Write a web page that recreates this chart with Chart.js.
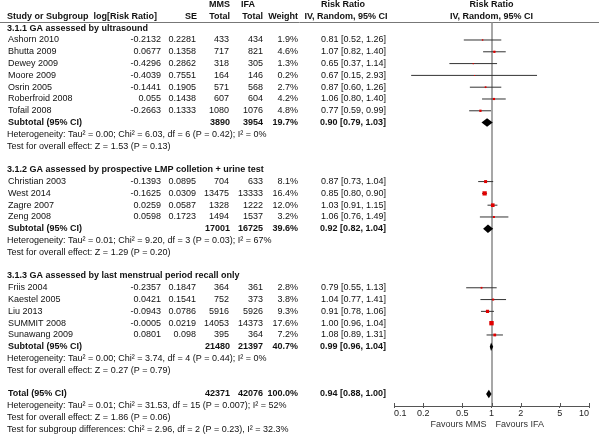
<!DOCTYPE html>
<html>
<head>
<meta charset="utf-8">
<script src="https://cdn.jsdelivr.net/npm/chart.js@4.4.0/dist/chart.umd.min.js"></script>
<style>
  body { margin: 0; background: #fff; }
  #wrap { width: 599px; height: 438px; }
</style>
</head>
<body>
<div id="wrap"><canvas id="myChart" width="599" height="438"></canvas></div>
<script>
// study data
var studies = ['Ashorn 2010', 'Bhutta 2009', 'Dewey 2009', 'Moore 2009', 'Osrin 2005', 'Roberfroid 2008', 'Tofail 2008',
    'Christian 2003', 'West 2014', 'Zagre 2007', 'Zeng 2008',
    'Friis 2004', 'Kaestel 2005', 'Liu 2013', 'SUMMIT 2008', 'Sunawang 2009'];
var logRR = ['-0.2132', '0.0677', '-0.4296', '-0.4039', '-0.1441', '0.055', '-0.2663',
    '-0.1393', '-0.1625', '0.0259', '0.0598',
    '-0.2357', '0.0421', '-0.0943', '-0.0005', '0.0801'];
var seVals = ['0.2281', '0.1358', '0.2862', '0.7551', '0.1905', '0.1438', '0.1333',
    '0.0895', '0.0309', '0.0587', '0.1723',
    '0.1847', '0.1541', '0.0786', '0.0219', '0.098'];
var mmsTotal = [433, 717, 318, 164, 571, 607, 1080, 704, 13475, 1328, 1494, 364, 752, 5916, 14053, 395];
var ifaTotal = [434, 821, 305, 146, 568, 604, 1076, 633, 13333, 1222, 1537, 361, 373, 5926, 14373, 364];
var weights = [1.9, 4.6, 1.3, 0.2, 2.7, 4.2, 4.8, 8.1, 16.4, 12.0, 3.2, 2.8, 3.8, 9.3, 17.6, 7.2];
var rr = [0.81, 1.07, 0.65, 0.67, 0.87, 1.06, 0.77, 0.87, 0.85, 1.03, 1.06, 0.79, 1.04, 0.91, 1.00, 1.08];
var ciLow = [0.52, 0.82, 0.37, 0.15, 0.60, 0.80, 0.59, 0.73, 0.80, 0.91, 0.76, 0.55, 0.77, 0.78, 0.96, 0.89];
var ciHigh = [1.26, 1.40, 1.14, 2.93, 1.26, 1.40, 0.99, 1.04, 0.90, 1.15, 1.49, 1.13, 1.41, 1.06, 1.04, 1.31];
var groupOf = [0, 0, 0, 0, 0, 0, 0, 1, 1, 1, 1, 2, 2, 2, 2, 2];

// subgroups + total
var groupTitles = ['3.1.1 GA assessed by ultrasound',
    '3.1.2 GA assessed by prospective LMP colletion + urine test',
    '3.1.3 GA assessed by last menstrual period recall only'];
var subMms = [3890, 17001, 21480];
var subIfa = [3954, 16725, 21397];
var subWeight = [19.7, 39.6, 40.7];
var subRR = [0.90, 0.92, 0.99];
var subLow = [0.79, 0.82, 0.96];
var subHigh = [1.03, 1.04, 1.04];
var subHet = ['Heterogeneity: Tau\u00b2 = 0.00; Chi\u00b2 = 6.03, df = 6 (P = 0.42); I\u00b2 = 0%',
    'Heterogeneity: Tau\u00b2 = 0.01; Chi\u00b2 = 9.20, df = 3 (P = 0.03); I\u00b2 = 67%',
    'Heterogeneity: Tau\u00b2 = 0.00; Chi\u00b2 = 3.74, df = 4 (P = 0.44); I\u00b2 = 0%'];
var subTest = ['Test for overall effect: Z = 1.53 (P = 0.13)',
    'Test for overall effect: Z = 1.29 (P = 0.20)',
    'Test for overall effect: Z = 0.27 (P = 0.79)'];
var totalMms = 42371, totalIfa = 42076, totalWeight = 100.0;
var totalRR = 0.94, totalLow = 0.88, totalHigh = 1.00;
var totalNotes = ['Heterogeneity: Tau\u00b2 = 0.01; Chi\u00b2 = 31.53, df = 15 (P = 0.007); I\u00b2 = 52%',
    'Test for overall effect: Z = 1.86 (P = 0.06)',
    'Test for subgroup differences: Chi\u00b2 = 2.96, df = 2 (P = 0.23), I\u00b2 = 32.3%'];
var xTicks = [0.1, 0.2, 0.5, 1, 2, 5, 10];

// row numbers (one row = one line of the table)
var groupStart = [-1, 11, 20];
var studyRow = [];
var subRow = [];
var counter = [0, 0, 0];
for (var i = 0; i < studies.length; i++) {
    var g = groupOf[i];
    counter[g]++;
    studyRow.push(groupStart[g] + counter[g]);
}
for (var g = 0; g < 3; g++) subRow.push(groupStart[g] + counter[g] + 1);
var totalRow = 30;

function fmt2(v) { return v.toFixed(2); }
function ciText(a, b, c) { return fmt2(a) + ' [' + fmt2(b) + ', ' + fmt2(c) + ']'; }

// datasets: one line per CI, plus the squares
var datasets = [];
for (var i = 0; i < studies.length; i++) {
    datasets.push({
        type: 'line',
        data: [{x: ciLow[i], y: studyRow[i]}, {x: ciHigh[i], y: studyRow[i]}],
        borderColor: '#333',
        borderWidth: 1,
        pointRadius: 0,
        order: 2
    });
}
datasets.push({
    type: 'scatter',
    data: rr.map(function(v, i) { return {x: v, y: studyRow[i]}; }),
    pointStyle: 'rect',
    pointRadius: weights.map(function(w) { return Math.max(1, Math.sqrt(w) * 1.05) / Math.SQRT2; }),
    backgroundColor: '#e00000',
    borderColor: '#e00000',
    borderWidth: 0,
    order: 1
});

var FONT = 'Arial, "Liberation Sans", sans-serif';

var tablePlugin = {
    id: 'table',
    beforeDatasetsDraw: function(chart) {
        var ctx = chart.ctx;
        var xs = chart.scales.x, ys = chart.scales.y;
        var area = chart.chartArea;
        ctx.save();
        // header rule
        ctx.strokeStyle = '#777';
        ctx.lineWidth = 1;
        ctx.beginPath();
        ctx.moveTo(0, area.top + 0.5);
        ctx.lineTo(599, area.top + 0.5);
        ctx.stroke();
        // line of no effect
        var x1 = Math.round(xs.getPixelForValue(1));
        ctx.strokeStyle = '#8a8a8a';
        ctx.lineWidth = 1.5;
        ctx.beginPath();
        ctx.moveTo(x1, area.top);
        ctx.lineTo(x1, area.bottom);
        ctx.stroke();
        // little tick stubs above the axis line
        ctx.strokeStyle = '#555';
        ctx.lineWidth = 1;
        ctx.beginPath();
        xTicks.forEach(function(v) {
            var px = Math.round(xs.getPixelForValue(v)) + 0.5;
            ctx.moveTo(px, area.bottom - 3);
            ctx.lineTo(px, area.bottom);
        });
        ctx.stroke();
        ctx.restore();
    },
    afterDatasetsDraw: function(chart) {
        var ctx = chart.ctx;
        var xs = chart.scales.x, ys = chart.scales.y;
        var area = chart.chartArea;
        var rowH = Math.abs(ys.getPixelForValue(1) - ys.getPixelForValue(0));

        function txt(s, x, row, align, bold, color) {
            ctx.font = (bold ? 'bold ' : '') + '9px ' + FONT;
            ctx.textAlign = align || 'left';
            ctx.fillStyle = color || '#111';
            ctx.fillText(s, x, ys.getPixelForValue(row));
        }
        function diamond(est, lo, hi, row) {
            var y = ys.getPixelForValue(row);
            var h = rowH * 0.36;
            ctx.fillStyle = '#000';
            ctx.beginPath();
            ctx.moveTo(xs.getPixelForValue(lo), y);
            ctx.lineTo(xs.getPixelForValue(est), y - h);
            ctx.lineTo(xs.getPixelForValue(hi), y);
            ctx.lineTo(xs.getPixelForValue(est), y + h);
            ctx.closePath();
            ctx.fill();
        }

        ctx.save();
        ctx.textBaseline = 'middle';

        // column headers
        txt('MMS', 230, -3, 'right', true);
        txt('IFA', 241, -3, 'left', true);
        txt('Risk Ratio', 343, -3, 'center', true);
        txt('Risk Ratio', xs.getPixelForValue(1), -3, 'center', true);
        txt('Study or Subgroup', 7, -2, 'left', true);
        txt('log[Risk Ratio]', 157, -2, 'right', true);
        txt('SE', 197, -2, 'right', true);
        txt('Total', 230, -2, 'right', true);
        txt('Total', 263, -2, 'right', true);
        txt('Weight', 298, -2, 'right', true);
        txt('IV, Random, 95% CI', 346, -2, 'center', true);
        txt('IV, Random, 95% CI', xs.getPixelForValue(1), -2, 'center', true);

        for (var g = 0; g < 3; g++) {
            txt(groupTitles[g], 7, groupStart[g], 'left', true);
            var r = subRow[g];
            txt('Subtotal (95% CI)', 8, r, 'left', true);
            txt(String(subMms[g]), 230, r, 'right', true);
            txt(String(subIfa[g]), 263, r, 'right', true);
            txt(subWeight[g].toFixed(1) + '%', 298, r, 'right', true);
            txt(ciText(subRR[g], subLow[g], subHigh[g]), 386, r, 'right', true);
            txt(subHet[g], 7, r + 1, 'left');
            txt(subTest[g], 7, r + 2, 'left');
            diamond(subRR[g], subLow[g], subHigh[g], r);
        }

        for (var i = 0; i < studies.length; i++) {
            var r = studyRow[i];
            txt(studies[i], 8, r, 'left');
            txt(logRR[i], 161, r, 'right');
            txt(seVals[i], 196, r, 'right');
            txt(String(mmsTotal[i]), 229, r, 'right');
            txt(String(ifaTotal[i]), 263, r, 'right');
            txt(weights[i].toFixed(1) + '%', 298, r, 'right');
            txt(ciText(rr[i], ciLow[i], ciHigh[i]), 386, r, 'right');
        }

        // overall
        txt('Total (95% CI)', 8, totalRow, 'left', true);
        txt(String(totalMms), 230, totalRow, 'right', true);
        txt(String(totalIfa), 263, totalRow, 'right', true);
        txt(totalWeight.toFixed(1) + '%', 298, totalRow, 'right', true);
        txt(ciText(totalRR, totalLow, totalHigh), 386, totalRow, 'right', true);
        for (var k = 0; k < totalNotes.length; k++) txt(totalNotes[k], 7, totalRow + 1 + k, 'left');
        diamond(totalRR, totalLow, totalHigh, totalRow);

        // favours labels under the axis
        var x1 = xs.getPixelForValue(1);
        ctx.font = '9px ' + FONT;
        ctx.fillStyle = '#333';
        ctx.textAlign = 'right';
        ctx.fillText('Favours MMS', x1 - 5, area.bottom + 19);
        ctx.textAlign = 'left';
        ctx.fillText('Favours IFA', x1 + 4, area.bottom + 19);
        ctx.restore();
    }
};

var ctx = document.getElementById('myChart').getContext('2d');
var chart = new Chart(ctx, {
    data: { datasets: datasets },
    options: {
        responsive: false,
        animation: false,
        layout: { padding: { left: 394, right: 10, top: 22, bottom: 0 } },
        plugins: { legend: { display: false }, tooltip: { enabled: false } },
        scales: {
            x: {
                type: 'logarithmic',
                min: 0.1,
                max: 10,
                afterBuildTicks: function(scale) {
                    scale.ticks = xTicks.map(function(v) { return {value: v}; });
                },
                afterFit: function(scale) { scale.height = 32; },
                ticks: {
                    autoSkip: false,
                    maxRotation: 0,
                    padding: 0,
                    align: 'inner',
                    color: '#222',
                    font: { family: FONT, size: 9 },
                    callback: function(v) { return String(v); }
                },
                grid: { drawOnChartArea: false, tickLength: 2, color: '#555', lineWidth: 1 },
                border: { color: '#555', width: 1 }
            },
            y: {
                type: 'linear',
                display: false,
                reverse: true,
                min: -1.525,
                max: 31.02
            }
        }
    },
    plugins: [tablePlugin]
});
</script>
</body>
</html>
